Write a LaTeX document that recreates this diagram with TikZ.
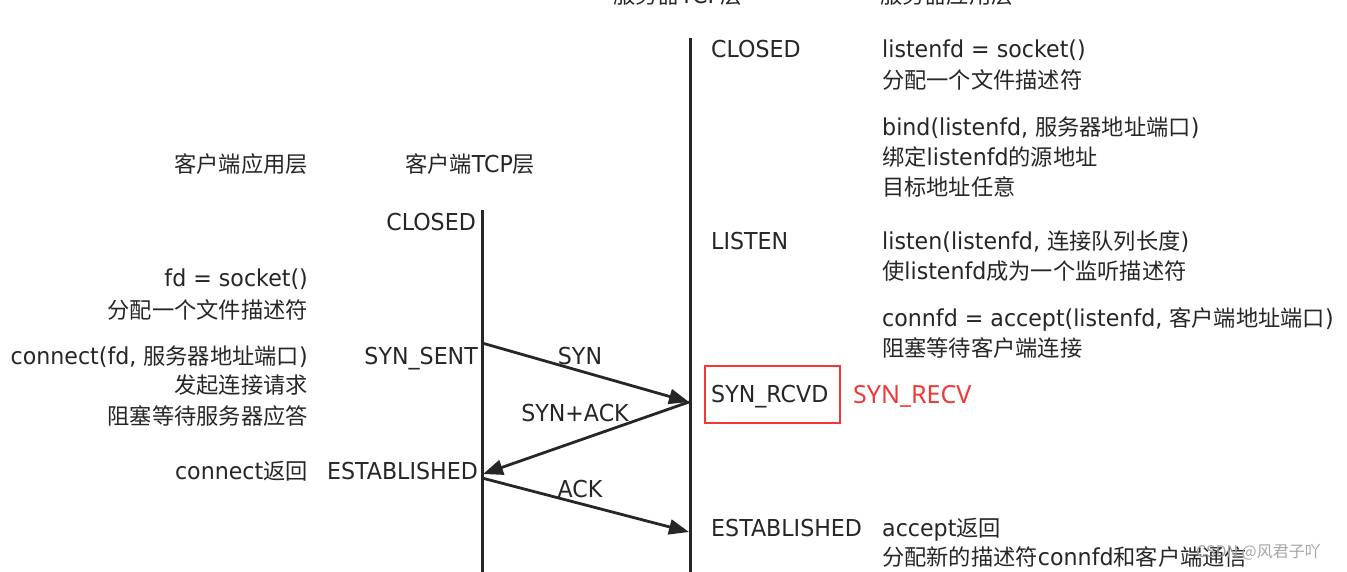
\documentclass[tikz,border=0pt]{standalone}
\usepackage{fontspec}
\setmainfont{DejaVu Sans}[FakeStretch=0.95]
\newfontfamily\cjk{Noto Sans CJK SC}[Scale=0.955]
\newfontfamily\redfont{Noto Sans}
\newfontfamily\wmfont{Noto Sans CJK SC}
\newcommand{\zhtxt}[1]{{\cjk #1}}
\usetikzlibrary{arrows.meta}
\definecolor{ink}{HTML}{262626}
\definecolor{redmark}{HTML}{F03838}
\begin{document}
\begin{tikzpicture}[x=1pt,y=-1pt,
  txt/.style={inner sep=0pt,text=ink,font=\fontsize{23.3}{28}\selectfont},
  rtxt/.style={txt,anchor=base east},
  ltxt/.style={txt,anchor=base west},
  lifeline/.style={draw=ink,line width=3pt},
  msg/.style={draw=ink,line width=2.8pt,-{Triangle[length=20pt,width=15pt]}},
  msglabel/.style={txt,anchor=center}]
\useasboundingbox (0,0) rectangle (1347,571);
\clip (0,0) rectangle (1347,571);
% lifelines
\coordinate (ctop) at (482,210);
\coordinate (cbot) at (482,575);
\coordinate (stop) at (690,38);
\coordinate (sbot) at (690,575);
\draw[lifeline] (ctop) -- (cbot);
\draw[lifeline] (stop) -- (sbot);
% message points
\coordinate (c1) at (482,343);
\coordinate (s1) at (689,402);
\coordinate (c2) at (483,474);
\coordinate (c3) at (482,478);
\coordinate (s2) at (689,532);
\draw[msg] (c1) -- (s1);
\draw[msg] (s1) -- (c2);
\draw[msg] (c3) -- (s2);
\node[msglabel] (lsyn) at (580,356) {SYN};
\node[msglabel] (lsynack) at (575,413) {SYN+ACK};
\node[msglabel] (lack) at (580,489) {ACK};
% top cut headings
\node[ltxt] (hstcp) at (613,3) {\zhtxt{服务器}TCP\zhtxt{层}};
\node[ltxt] (hsapp) at (880,3) {\zhtxt{服务器应用层}};
% client side
\node[rtxt] (hcapp) at (308,172.5) {\zhtxt{客户端应用层}};
\node[ltxt] (hctcp) at (405,172.5) {\zhtxt{客户端}TCP\zhtxt{层}};
\node[rtxt] (cclosed) at (476,230.5) {CLOSED};
\node[rtxt] (csock) at (308,286.5) {fd = socket()};
\node[rtxt] (csock2) at (308,318.5) {\zhtxt{分配一个文件描述符}};
\node[rtxt] (cconn) at (308,364.5) {connect(fd, \zhtxt{服务器地址端口})};
\node[rtxt] (cconn2) at (308,393.5) {\zhtxt{发起连接请求}};
\node[rtxt] (cconn3) at (308,424.5) {\zhtxt{阻塞等待服务器应答}};
\node[rtxt] (cret) at (308,479.5) {connect\zhtxt{返回}};
\node[rtxt] (csent) at (478,364.5) {SYN\_SENT};
\node[rtxt] (cest) at (478,479.5) {ESTABLISHED};
% server side
\node[ltxt] (sclosed) at (711,57.5) {CLOSED};
\node[ltxt] (ssock) at (882,57.5) {listenfd = socket()};
\node[ltxt] (ssock2) at (882,88.5) {\zhtxt{分配一个文件描述符}};
\node[ltxt] (sbind) at (882,135.5) {bind(listenfd, \zhtxt{服务器地址端口})};
\node[ltxt] (sbind2) at (882,165.5) {\zhtxt{绑定}listenfd\zhtxt{的源地址}};
\node[ltxt] (sbind3) at (882,195.5) {\zhtxt{目标地址任意}};
\node[ltxt] (slisten) at (711,249.5) {LISTEN};
\node[ltxt] (slis) at (882,249.5) {listen(listenfd, \zhtxt{连接队列长度})};
\node[ltxt] (slis2) at (882,279.5) {\zhtxt{使}listenfd\zhtxt{成为一个监听描述符}};
\node[ltxt] (sacc) at (882,326.5) {connfd = accept(listenfd, \zhtxt{客户端地址端口})};
\node[ltxt] (sacc2) at (882,356.5) {\zhtxt{阻塞等待客户端连接}};
\node[ltxt] (srcvd) at (711,402.5) {SYN\_RCVD};
\node[ltxt] (sest) at (711,536.5) {ESTABLISHED};
\node[ltxt] (sret) at (882,536.5) {accept\zhtxt{返回}};
\node[ltxt] (sret2) at (882,565.5) {\zhtxt{分配新的描述符}connfd\zhtxt{和客户端通信}};
% red annotation
\coordinate (boxA) at (705,366);
\coordinate (boxB) at (840,423);
\draw[draw=redmark,line width=2.4pt] (boxA) rectangle (boxB);
\node[inner sep=0pt,anchor=base west,text=redmark,font=\redfont\fontsize{25}{30}\selectfont] (srecv) at (853,403) {SYN\_RECV};
% watermark
\node[inner sep=0pt,anchor=base west,text=gray!70,font=\wmfont\fontsize{16}{20}\selectfont] (wm) at (1196,557) {CSDN @风君子吖};
\end{tikzpicture}
\end{document}
